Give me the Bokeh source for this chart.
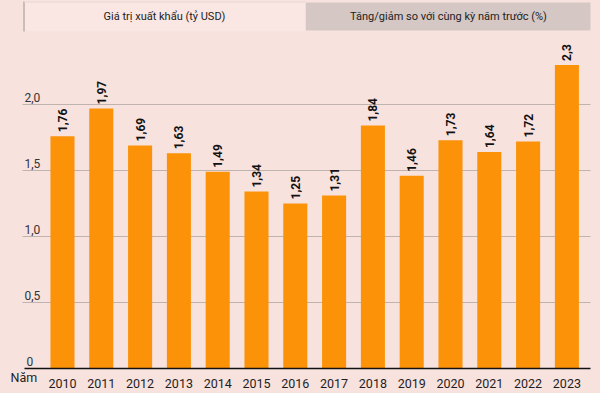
import math
from bokeh.plotting import figure
from bokeh.models import Range1d, FixedTicker, ColumnDataSource, GlobalInlineStyleSheet
from bokeh.core.properties import value
from bokeh.embed import file_html
from bokeh.resources import INLINE

# ---- data ----
years = [2010, 2011, 2012, 2013, 2014, 2015, 2016, 2017, 2018, 2019, 2020, 2021, 2022, 2023]
export_value = [1.76, 1.97, 1.69, 1.63, 1.49, 1.34, 1.25, 1.31, 1.84, 1.46, 1.73, 1.64, 1.72, 2.3]
value_labels = ["1,76", "1,97", "1,69", "1,63", "1,49", "1,34", "1,25", "1,31", "1,84", "1,46",
                "1,73", "1,64", "1,72", "2,3"]
y_ticks = [0, 0.5, 1.0, 1.5, 2.0]
y_tick_labels = ["0", "0,5", "1,0", "1,5", "2,0"]
tab_labels = ["Giá trị xuất khẩu (tỷ USD)", "Tăng/giảm so với cùng kỳ năm trước (%)"]
x_axis_name = "Năm"

# ---- style ----
BG = "#F8E2DE"
BAR = "#FB9208"
FONT = "Roboto"
W, H = 600, 393
PLOT_L, PLOT_R, BASE = 22, 590, 368     # pixel layout of the plotting area
PX_PER_YEAR = 38.8
PX_PER_UNIT = 132.0

x_start = years[0] - 62 / PX_PER_YEAR
x_end = x_start + W / PX_PER_YEAR
y_start = (BASE - H) / PX_PER_UNIT
y_end = BASE / PX_PER_UNIT


def px2x(px):
    return x_start + px / PX_PER_YEAR


def py2y(py):
    return (BASE - py) / PX_PER_UNIT


p = figure(width=W, height=H, output_backend="svg", toolbar_location=None,
           x_range=Range1d(x_start, x_end), y_range=Range1d(y_start, y_end),
           min_border=0)
p.stylesheets = [GlobalInlineStyleSheet(
    css=f"html, body {{ margin: 0; padding: 0; background: {BG}; overflow: hidden; }}")]
p.background_fill_color = BG
p.border_fill_color = BG
p.outline_line_color = None
p.grid.visible = False
p.yaxis.visible = False

# x axis placed inside the frame at y = 0
p.xaxis.fixed_location = 0
p.xaxis.ticker = FixedTicker(ticks=years)
p.xaxis.major_tick_line_color = None
p.xaxis.minor_tick_line_color = None
p.xaxis.axis_line_color = None
p.xaxis.major_label_text_font = FONT
p.xaxis.major_label_text_font_size = "12.5px"
p.xaxis.major_label_text_color = "#1E1E1E"
p.xaxis.major_label_standoff = 4

# tabs
p.quad(left=[px2x(305)], right=[px2x(590)], top=[py2y(2)], bottom=[py2y(30)],
       fill_color="#D5C7C4", line_color=None)
p.quad(left=[px2x(23)], right=[px2x(305)], top=[py2y(1)], bottom=[py2y(30)],
       fill_color="#FAE7E4", line_color=None)
p.segment(x0=[px2x(23.5)], y0=[py2y(1)], x1=[px2x(23.5)], y1=[py2y(31)],
          line_color="#B9AEAB", line_width=1.5)
p.segment(x0=[px2x(23.5)], y0=[py2y(1.5)], x1=[px2x(305)], y1=[py2y(1.5)],
          line_color="#E6D6D3", line_width=1)
p.text(x=[px2x(164), px2x(448)], y=[py2y(16), py2y(16)], text=tab_labels,
       text_align="center", text_baseline="middle", text_font=value(FONT),
       text_font_size="11px", text_color="#222222")

# grid lines
grid_src = ColumnDataSource(dict(y=y_ticks[1:]))
p.segment(x0=px2x(PLOT_L), x1=px2x(PLOT_R), y0="y", y1="y", source=grid_src,
          line_color="#BFB3B0", line_width=1)

# bars
src = ColumnDataSource(dict(x=years, top=export_value, lab=value_labels))
p.vbar(x="x", top="top", width=0.62, bottom=0, source=src, fill_color=BAR, line_color=None)
p.text(x="x", y="top", text="lab", source=src, angle=math.pi / 2, text_align="left",
       text_baseline="middle", y_offset=-4, text_font=value(FONT), text_font_size="12px",
       text_font_style="bold", text_color="#111111")

# baseline (axis line)
p.segment(x0=[px2x(24)], x1=[px2x(PLOT_R)], y0=[0], y1=[0], line_color="#111111",
          line_width=1.6)

# y tick labels inside the plot
ysrc = ColumnDataSource(dict(y=y_ticks, lab=y_tick_labels,
                             x=[px2x(26) if t == 0 else px2x(24) for t in y_ticks]))
p.text(x="x", y="y", text="lab", source=ysrc, text_baseline="bottom", y_offset=-3,
       text_font=value(FONT), text_font_size="12px", text_color="#333333")

# axis name
p.text(x=[px2x(10)], y=[py2y(377)], text=[x_axis_name], text_baseline="middle",
       text_font=value(FONT), text_font_size="12.5px", text_color="#1E1E1E")

open("out.html", "w").write(file_html(p, INLINE))
